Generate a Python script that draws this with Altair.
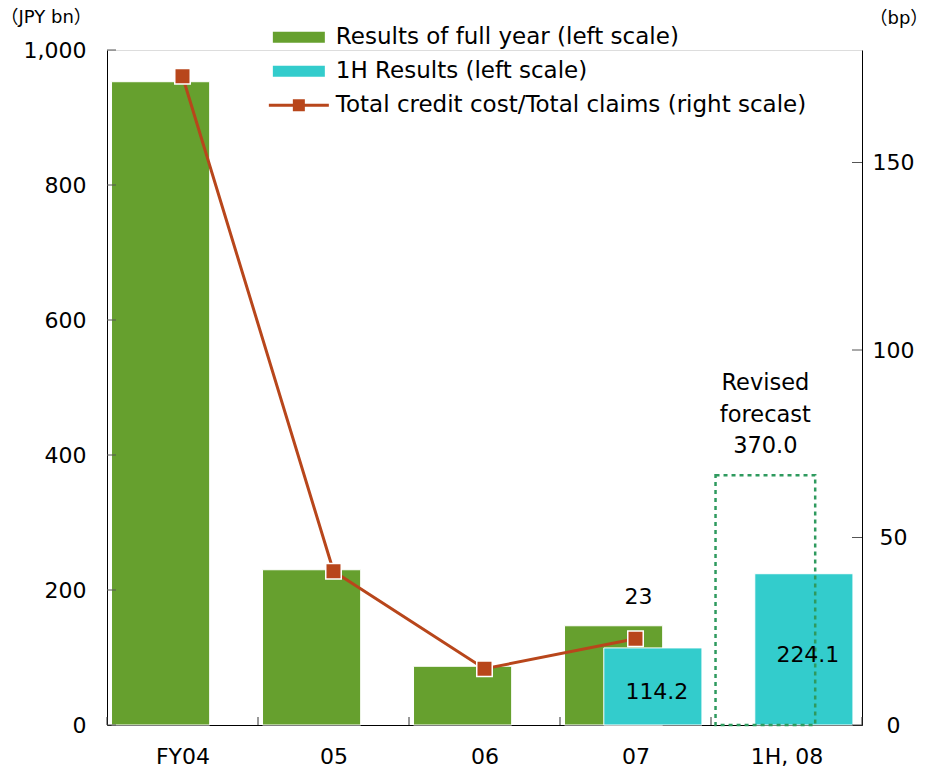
import json

import altair as alt
import pandas as pd

# ---- data -------------------------------------------------------------
categories = ["FY04", "05", "06", "07", "1H, 08"]
full_year = [953, 230, 87, 147, None]            # JPY bn (left scale)
first_half = [None, None, None, 114.2, 224.1]    # JPY bn (left scale)
revised_forecast = [None, None, None, None, 370.0]
credit_cost_ratio = [173, 41, 15, 23, None]      # bp (right scale)
labelled_ratio = ["07"]

left_ticks = [0, 200, 400, 600, 800, 1000]
right_ticks = [0, 50, 100, 150]

series = [
    "Results of full year (left scale)",
    "1H Results (left scale)",
    "Total credit cost/Total claims (right scale)",
]

# ---- styling ----------------------------------------------------------
GREEN = "#66A02E"
CYAN = "#33CCCC"
RUST = "#B8461B"
DOTTED = "#2E9A5E"
FONT = "DejaVu Sans"
TITLE_FONT = "DejaVu Sans, Noto Sans CJK JP"
W, H = 755, 675

df = pd.DataFrame({
    "idx": list(range(len(categories))),
    "category": categories,
    "full": full_year,
    "half": first_half,
    "forecast": revised_forecast,
    "ratio": credit_cost_ratio,
})
bounds = pd.DataFrame({"b": list(range(len(categories) + 1))})

# every layer gets its own (identical) scales; only one layer per axis draws it
x_scale = alt.Scale(domain=[0, len(categories)], nice=False, zero=False)
yl_scale = alt.Scale(domain=[0, 1000], nice=False)
yr_scale = alt.Scale(domain=[0, 180], nice=False)

x_axis = alt.Axis(
    values=[i + 0.5 for i in range(len(categories))],
    labelExpr=f"{json.dumps(categories)}[round(datum.value - 0.5)]",
    ticks=False, tickSize=0, grid=False, title=None,
    domainColor="black", domainWidth=1,
    labelFont=FONT, labelFontSize=22, labelColor="black", labelPadding=21,
)
yl_axis = alt.Axis(
    values=left_ticks, format=",d",
    ticks=False, tickSize=0, grid=False,
    domainColor="black", domainWidth=1,
    labelFont=FONT, labelFontSize=22, labelColor="black", labelPadding=21,
    title="（JPY bn）", titleAngle=0, titleAlign="left", titleBaseline="middle",
    titleX=-107, titleY=-33, titleFont=TITLE_FONT, titleFontSize=18,
    titleFontWeight="normal", titleColor="black", titleLimit=200,
)
yr_axis = alt.Axis(
    orient="right", values=right_ticks,
    ticks=False, tickSize=0, grid=False,
    domainColor="black", domainWidth=1,
    labelFont=FONT, labelFontSize=22, labelColor="black",
    labelAlign="center", labelPadding=31,
    title="（bp）", titleAngle=0, titleAlign="left", titleBaseline="middle",
    titleX=7, titleY=-32, titleFont=TITLE_FONT, titleFontSize=18,
    titleFontWeight="normal", titleColor="black", titleLimit=200,
)

base = alt.Chart(df)

# full-year bars sit in the left part of each category band
full_bars = base.transform_filter("isValid(datum.full)").transform_calculate(
    x0="datum.idx + 0.03", x1="datum.idx + 0.68"
).mark_rect(color=GREEN, stroke="white", strokeWidth=1).encode(
    x=alt.X("x0:Q", scale=x_scale, axis=x_axis),
    x2="x1:Q",
    y=alt.Y("full:Q", scale=yl_scale, axis=yl_axis),
    y2=alt.datum(0),
)

# first-half bars sit in the right part of the band
half_bars = base.transform_filter("isValid(datum.half)").transform_calculate(
    x0="datum.idx + 0.29", x1="datum.idx + 0.94"
).mark_rect(color=CYAN, stroke="white", strokeWidth=1).encode(
    x=alt.X("x0:Q", scale=x_scale, axis=None),
    x2="x1:Q",
    y=alt.Y("half:Q", scale=yl_scale, axis=None),
    y2=alt.datum(0),
)

half_labels = base.transform_filter("isValid(datum.half)").transform_calculate(
    xc="datum.idx + 0.615", ym="datum.half / 2"
).mark_text(font=FONT, fontSize=22, color="black", baseline="middle",
            dx=4, dy=6).encode(
    x=alt.X("xc:Q", scale=x_scale, axis=None),
    y=alt.Y("ym:Q", scale=yl_scale, axis=None),
    text=alt.Text("half:Q", format=".1f"),
)

# dotted outline for the revised full-year forecast
forecast_box = base.transform_filter("isValid(datum.forecast)").transform_calculate(
    x0="datum.idx + 0.03", x1="datum.idx + 0.69"
).mark_rect(fill="transparent", stroke=DOTTED, strokeWidth=2.5,
            strokeDash=[4, 4]).encode(
    x=alt.X("x0:Q", scale=x_scale, axis=None),
    x2="x1:Q",
    y=alt.Y("forecast:Q", scale=yl_scale, axis=None),
    y2=alt.datum(0),
)

forecast_label = base.transform_filter("isValid(datum.forecast)").transform_calculate(
    xc="datum.idx + 0.36",
    txt="'Revised\\nforecast\\n' + format(datum.forecast, '.1f')",
).mark_text(font=FONT, fontSize=22.5, color="black", baseline="middle",
            lineBreak="\n", lineHeight=31.5, dy=-92).encode(
    x=alt.X("xc:Q", scale=x_scale, axis=None),
    y=alt.Y("forecast:Q", scale=yl_scale, axis=None),
    text="txt:N",
)

# inward-pointing tick marks
left_tick_marks = alt.Chart(pd.DataFrame({"t": left_ticks})).mark_rule(
    color="#555555", strokeWidth=1
).encode(
    x=alt.value(0), x2=alt.value(9),
    y=alt.Y("t:Q", scale=yl_scale, axis=None),
)
x_tick_marks = alt.Chart(bounds).mark_rule(color="#333333", strokeWidth=1).encode(
    x=alt.X("b:Q", scale=x_scale, axis=None),
    y=alt.value(H - 8), y2=alt.value(H),
)

# legend carried by an invisible point layer
legend = alt.Legend(
    orient="none", legendX=176.85, legendY=-27.8, title=None, padding=0,
    labelFont=FONT, labelFontSize=23, labelColor="black", labelLimit=800,
    labelOffset=22, rowPadding=7, symbolSize=900, symbolOpacity=1,
    symbolStrokeWidth=0, direction="vertical",
)
legend_paths = [
    "M-1.733,-0.367H1.733V0.367H-1.733Z",
    "M-1.733,-0.367H1.733V0.367H-1.733Z",
    "M-2,-0.1H2V0.1H-2Z M-0.4,-0.4H0.4V0.4H-0.4Z",
]
legend_layer = alt.Chart(pd.DataFrame({"series": series})).mark_point(
    filled=True, opacity=0, size=900
).encode(
    color=alt.Color("series:N", scale=alt.Scale(domain=series, range=[GREEN, CYAN, RUST]),
                    legend=legend),
    shape=alt.Shape("series:N", scale=alt.Scale(domain=series, range=legend_paths),
                    legend=legend),
)

# ---- right scale: credit cost ratio -----------------------------------
ratio_base = base.transform_filter("isValid(datum.ratio)").transform_calculate(
    xm="datum.idx + 0.5"
)
ratio_line = ratio_base.mark_line(color=RUST, strokeWidth=3).encode(
    x=alt.X("xm:Q", scale=x_scale, axis=None),
    y=alt.Y("ratio:Q", scale=yr_scale, axis=yr_axis),
)
ratio_points = ratio_base.mark_point(shape="square", filled=True, size=240,
                                     fill=RUST, stroke="white", strokeWidth=1.5,
                                     opacity=1).encode(
    x=alt.X("xm:Q", scale=x_scale, axis=None),
    y=alt.Y("ratio:Q", scale=yr_scale, axis=None),
)
ratio_label = ratio_base.transform_filter(
    alt.FieldOneOfPredicate(field="category", oneOf=labelled_ratio)
).mark_text(font=FONT, fontSize=22, color="black", baseline="middle",
            dx=3, dy=-42).encode(
    x=alt.X("xm:Q", scale=x_scale, axis=None),
    y=alt.Y("ratio:Q", scale=yr_scale, axis=None),
    text=alt.Text("ratio:Q", format=".0f"),
)
right_tick_marks = alt.Chart(pd.DataFrame({"t": right_ticks})).mark_rule(
    color="#555555", strokeWidth=1
).encode(
    x=alt.value(W - 10), x2=alt.value(W),
    y=alt.Y("t:Q", scale=yr_scale, axis=None),
)

chart = alt.layer(
    full_bars, half_bars, forecast_box, half_labels, forecast_label,
    left_tick_marks, x_tick_marks, legend_layer,
    ratio_line, ratio_points, ratio_label, right_tick_marks,
).resolve_scale(
    x="independent", y="independent"
).properties(
    width=W, height=H,
    autosize=alt.AutoSizeParams(type="none"),
    padding={"left": 107, "top": 50, "right": 66, "bottom": 45},
).configure_view(strokeWidth=0).configure(font=FONT)

chart.save("out.html", embed_options={"renderer": "svg", "actions": False})
